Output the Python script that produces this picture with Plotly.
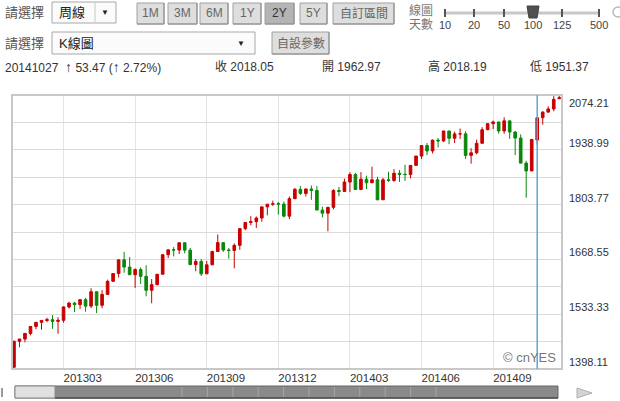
import plotly.graph_objects as go
import pandas as pd

# ---------------- data ----------------
first_week = "2012-12-31"
week_count = 100
week_dates = pd.date_range(first_week, periods=week_count, freq="7D")

opens = [1402.43, 1466.47, 1472.05, 1485.98, 1502.96, 1513.17, 1517.93, 1519.79, 1515.60, 1518.20,
         1551.18, 1560.70, 1556.89, 1569.19, 1553.28, 1588.85, 1555.25, 1582.24, 1614.42, 1633.70,
         1667.47, 1649.60, 1630.74, 1643.38, 1626.73, 1592.43, 1606.28, 1631.89, 1680.19, 1692.09,
         1691.65, 1709.67, 1691.42, 1655.83, 1663.50, 1632.97, 1655.17, 1687.99, 1709.91, 1691.75,
         1690.50, 1703.20, 1744.50, 1759.77, 1761.64, 1770.61, 1798.18, 1804.76, 1805.81, 1805.09,
         1775.32, 1818.32, 1841.40, 1831.37, 1842.37, 1838.70, 1790.29, 1782.59, 1797.02, 1838.63,
         1836.25, 1859.45, 1878.04, 1841.13, 1866.52, 1857.62, 1865.09, 1815.69, 1864.85, 1863.40,
         1881.14, 1878.48, 1877.86, 1900.53, 1923.57, 1949.44, 1936.16, 1962.87, 1960.96, 1985.44,
         1967.57, 1978.22, 1978.34, 1925.15, 1931.59, 1955.06, 1988.40, 2003.37, 2007.71, 1985.54,
         2010.40, 1982.85, 1967.90, 1906.13, 1886.76, 1962.97, 2018.21, 2032.01, 2039.74, 2065.07]
highs = [1467.94, 1472.30, 1485.16, 1503.26, 1514.41, 1518.31, 1524.69, 1530.94, 1525.84, 1552.48,
         1563.62, 1563.62, 1570.28, 1573.66, 1597.35, 1588.85, 1592.64, 1618.46, 1635.01, 1667.47,
         1687.18, 1674.21, 1646.53, 1648.69, 1654.19, 1620.07, 1632.07, 1680.19, 1693.12, 1698.78,
         1709.67, 1709.67, 1696.81, 1669.51, 1669.65, 1664.83, 1689.97, 1729.86, 1711.44, 1696.55,
         1708.00, 1745.31, 1759.82, 1775.22, 1774.54, 1798.22, 1804.84, 1813.55, 1810.02, 1811.52,
         1823.75, 1844.89, 1849.44, 1843.23, 1850.84, 1849.31, 1798.77, 1798.03, 1841.65, 1847.50,
         1867.92, 1883.57, 1882.35, 1883.97, 1875.18, 1897.28, 1872.53, 1869.63, 1884.89, 1891.33,
         1889.07, 1902.17, 1901.26, 1924.03, 1949.44, 1955.55, 1963.91, 1968.17, 1985.59, 1985.59,
         1983.94, 1991.39, 1984.85, 1942.92, 1964.04, 1994.76, 2005.04, 2011.17, 2007.71, 2019.26,
         2010.40, 1985.17, 1977.00, 1912.00, 1965.27, 2018.19, 2034.26, 2046.18, 2071.46, 2074.21]
lows = [1398.11, 1451.64, 1463.76, 1481.16, 1496.33, 1495.02, 1513.61, 1497.29, 1485.01, 1512.29,
        1547.36, 1538.57, 1546.22, 1539.50, 1548.19, 1536.03, 1548.19, 1581.28, 1614.42, 1623.97,
        1635.53, 1630.74, 1598.23, 1608.07, 1577.70, 1560.33, 1604.57, 1631.89, 1671.84, 1676.03,
        1681.86, 1683.38, 1654.19, 1639.43, 1627.47, 1632.97, 1655.17, 1687.99, 1687.11, 1670.36,
        1646.47, 1692.13, 1740.50, 1752.70, 1746.20, 1761.56, 1777.23, 1800.50, 1779.09, 1772.28,
        1767.99, 1818.32, 1827.74, 1823.73, 1815.52, 1790.29, 1772.26, 1737.92, 1791.83, 1824.58,
        1836.25, 1834.44, 1839.57, 1839.49, 1842.11, 1857.62, 1814.36, 1815.69, 1859.70, 1860.00,
        1859.79, 1862.36, 1868.14, 1900.53, 1915.98, 1925.78, 1930.00, 1944.69, 1958.22, 1952.86,
        1955.59, 1965.77, 1916.37, 1904.78, 1928.00, 1955.06, 1988.00, 1990.10, 1979.00, 1978.48,
        1965.99, 1926.03, 1906.05, 1820.66, 1886.76, 1951.37, 2001.01, 2030.17, 2034.00, 2064.75]
closes = [1466.47, 1472.05, 1485.98, 1502.96, 1513.17, 1517.93, 1519.79, 1515.60, 1518.20, 1551.18,
          1560.70, 1556.89, 1569.19, 1553.28, 1588.85, 1555.25, 1582.24, 1614.42, 1633.70, 1667.47,
          1649.60, 1630.74, 1643.38, 1626.73, 1592.43, 1606.28, 1631.89, 1680.19, 1692.09, 1691.65,
          1709.67, 1691.42, 1655.83, 1663.50, 1632.97, 1655.17, 1687.99, 1709.91, 1691.75, 1690.50,
          1703.20, 1744.50, 1759.77, 1761.64, 1770.61, 1798.18, 1804.76, 1805.81, 1805.09, 1775.32,
          1818.32, 1841.40, 1831.37, 1842.37, 1838.70, 1790.29, 1782.59, 1797.02, 1838.63, 1836.25,
          1859.45, 1878.04, 1841.13, 1866.52, 1857.62, 1865.09, 1815.69, 1864.85, 1863.40, 1881.14,
          1878.48, 1877.86, 1900.53, 1923.57, 1949.44, 1936.16, 1962.87, 1960.96, 1985.44, 1967.57,
          1978.22, 1978.34, 1925.15, 1931.59, 1955.06, 1988.40, 2003.37, 2007.71, 1985.54, 2010.40,
          1982.85, 1967.90, 1906.13, 1886.76, 1964.58, 2018.05, 2031.92, 2039.82, 2063.50, 2067.56]

y_axis_labels = [1398.11, 1533.33, 1668.55, 1803.77, 1938.99, 2074.21]
quarter_dates = ["2013-03-04", "2013-06-03", "2013-09-02", "2013-12-02",
                 "2014-03-03", "2014-06-02", "2014-09-01"]
quarter_labels = ["201303", "201306", "201309", "201312", "201403", "201406", "201409"]
cursor_week = "2014-10-27"

period_buttons = ["1M", "3M", "6M", "1Y", "2Y", "5Y", "自訂區間"]
active_period = "2Y"
day_steps = ["10", "20", "50", "100", "125", "500"]
active_days = "100"
freq_choice = "周線"
chart_choice = "K線圖"

# ---------------- geometry helpers ----------------
W, H = 620, 401
ML, MR, MT, MB = 12, 58, 95, 32
PW, PH = W - ML - MR, H - MT - MB
FONT = "Liberation Sans, Arial, Noto Sans CJK TC, sans-serif"
RED, GREEN = "#c80000", "#0b870b"


def fx(px):
    return (px - ML) / PW


def fy(py):
    return (H - MB - py) / PH


shapes, annotations = [], []


def rect(x0, y0, x1, y1, fill, line="#aaaaaa", lw=1):
    shapes.append(dict(type="rect", xref="paper", yref="paper",
                       x0=fx(x0), x1=fx(x1), y0=fy(y1), y1=fy(y0),
                       fillcolor=fill, line=dict(color=line, width=lw), layer="above"))


def seg(x0, y0, x1, y1, color, lw=1):
    shapes.append(dict(type="line", xref="paper", yref="paper",
                       x0=fx(x0), x1=fx(x1), y0=fy(y0), y1=fy(y1),
                       line=dict(color=color, width=lw), layer="above"))


def poly(pts, fill, line):
    path = "M " + " L ".join(f"{fx(a)},{fy(b)}" for a, b in pts) + " Z"
    shapes.append(dict(type="path", xref="paper", yref="paper", path=path,
                       fillcolor=fill, line=dict(color=line, width=1), layer="above"))


def text(t, x, y, size=12, color="#333", xa="left", ya="middle"):
    annotations.append(dict(text=t, xref="paper", yref="paper", x=fx(x), y=fy(y),
                            xanchor=xa, yanchor=ya, showarrow=False,
                            font=dict(family=FONT, size=size, color=color)))


# ---------------- figure ----------------
fig = go.Figure(go.Candlestick(
    x=week_dates, open=opens, high=highs, low=lows, close=closes,
    increasing=dict(line=dict(color=RED, width=1), fillcolor=RED),
    decreasing=dict(line=dict(color=GREEN, width=1), fillcolor=GREEN),
    whiskerwidth=0, showlegend=False, hoverinfo="skip"))

y_lo, y_hi = y_axis_labels[0], y_axis_labels[-1]
step = (y_hi - y_lo) / 10
x_range = [week_dates[0] - pd.Timedelta(days=2.5), week_dates[-1] + pd.Timedelta(days=3.5)]

# plot border
shapes.append(dict(type="rect", xref="paper", yref="paper", x0=0, x1=1, y0=0, y1=1,
                   line=dict(color="#c8c8c8", width=2), layer="above"))
# cursor line
shapes.append(dict(type="line", xref="x", yref="paper", x0=cursor_week, x1=cursor_week,
                   y0=0, y1=1, line=dict(color="#5aa8d8", width=1.5), layer="above"))

# y labels (right side)
for i, v in enumerate(y_axis_labels):
    top = i == len(y_axis_labels) - 1
    annotations.append(dict(text=f"{v:.2f}", xref="paper", yref="y", x=1, y=v,
                            xanchor="left", yanchor="top" if top else "bottom",
                            xshift=5, yshift=0 if top else -1, showarrow=False,
                            font=dict(family=FONT, size=11, color="#333")))

# watermark
annotations.append(dict(text="© cnYES", xref="paper", yref="paper", x=1, y=0,
                        xanchor="right", yanchor="bottom", xshift=-4, yshift=2,
                        showarrow=False, font=dict(family=FONT, size=13, color="#777")))

# ---- toolbar row 1 ----
text("請選擇", 3, 12, 13, "#555")
rect(52, 2, 116, 23, "#fbfbfb", "#a8a8a8")
seg(95, 3, 95, 22, "#c8c8c8")
text(freq_choice, 57, 12, 13, "#222")
text("▼", 105, 12, 8, "#222", "center")
btn_x = [(137, 164), (168, 197), (200, 228), (233, 261), (265, 294), (300, 327), (333, 394)]
for lab, (a, b) in zip(period_buttons, btn_x):
    on = lab == active_period
    rect(a, 3, b, 24, "#b4b4b4" if on else "#dedede", "#a0a0a0")
    seg(b, 3, b, 24, "#8c8c8c", 1)
    seg(a, 24, b, 24, "#8c8c8c", 1)
    text(lab, (a + b) / 2, 13.5, 12, "#333" if on else "#666", "center")

# slider
text("線圖", 407, 11, 12, "#777")
text("天數", 407, 25, 12, "#777")
tick_x = [445, 474, 504, 533, 562, 599]
seg(445, 13, 600, 13, "#c8c8c8", 3)
for lab, tx in zip(day_steps, tick_x):
    seg(tx, 9, tx, 17, "#555", 2)
    text(lab, tx, 25, 11, "#444", "center")
    if lab == active_days:
        poly([(tx - 6, 6), (tx + 6, 6), (tx + 4, 18), (tx - 4, 18)], "#505050", "#404040")
shapes.append(dict(type="circle", xref="paper", yref="paper", x0=fx(613), x1=fx(623),
                   y0=fy(17), y1=fy(7), line=dict(color="#bbbbbb", width=1.5), layer="above"))

# ---- toolbar row 2 ----
text("請選擇", 3, 43, 13, "#555")
rect(52, 32, 255, 54, "#fbfbfb", "#a8a8a8")
text(chart_choice, 57, 43, 13, "#222")
text("▼", 241, 43, 8, "#222", "center")
rect(272, 32, 329, 54, "#dedede", "#a0a0a0")
seg(329, 32, 329, 54, "#8c8c8c")
seg(272, 54, 329, 54, "#8c8c8c")
text("自設參數", 300.5, 43, 12, "#666", "center")

# ---- info row ----
ci = list(week_dates).index(pd.Timestamp(cursor_week))
chg = closes[ci] - closes[ci - 1]
pct = chg / closes[ci - 1] * 100
arrow = "<span style='font-size:14px'>↑</span>"
nb = "\u00a0"
text(f"{week_dates[ci]:%Y%m%d}{nb}{nb}{arrow}{nb}{chg:.2f}{nb}({arrow}{nb}{pct:.2f}%)", 3, 67, 12, "#333")
text(f"收 {closes[ci]:.2f}", 213, 67, 12, "#333")
text(f"開 {opens[ci]:.2f}", 320, 67, 12, "#333")
text(f"高 {highs[ci]:.2f}", 426, 67, 12, "#333")
text(f"低 {lows[ci]:.2f}", 528, 67, 12, "#333")

# ---- bottom scrollbar ----
seg(2, 388, 2, 397, "#9a9a9a", 2)
rect(15, 386, 558, 398, "#8a8a8a", "#666666")
rect(15, 386, 55, 398, "#e0e0e0", "#8a8a8a")
for k in range(11):
    xx = 182 + 25.4 * k
    seg(xx, 387, xx, 397, "#a6a6a6", 1)
seg(55, 398, 558, 398, "#505050", 1.5)
poly([(577, 388), (592, 393), (577, 398)], "#d4d4d4", "#b0b0b0")

fig.update_layout(
    width=W, height=H, margin=dict(l=ML, r=MR, t=MT, b=MB, pad=0),
    paper_bgcolor="white", plot_bgcolor="white", showlegend=False,
    font=dict(family=FONT, size=12, color="#333"),
    shapes=shapes, annotations=annotations, boxgap=0.32,
    xaxis=dict(type="date", range=x_range, rangeslider=dict(visible=False),
               tickvals=quarter_dates, ticktext=quarter_labels,
               ticklabelposition="outside right", ticks="", showline=False,
               zeroline=False, showgrid=True, gridcolor="#e4e4e4", gridwidth=1,
               tickfont=dict(family=FONT, size=11.5, color="#333"), fixedrange=True),
    yaxis=dict(range=[y_lo, y_hi], tick0=y_lo, dtick=step, showticklabels=False,
               ticks="", zeroline=False, showline=False, showgrid=True,
               gridcolor="#dadada", gridwidth=1, fixedrange=True),
)

fig.write_html("out.html", include_plotlyjs=True, config={"displayModeBar": False},
               post_script="document.body.style.margin='0';document.body.style.overflow='hidden';")
